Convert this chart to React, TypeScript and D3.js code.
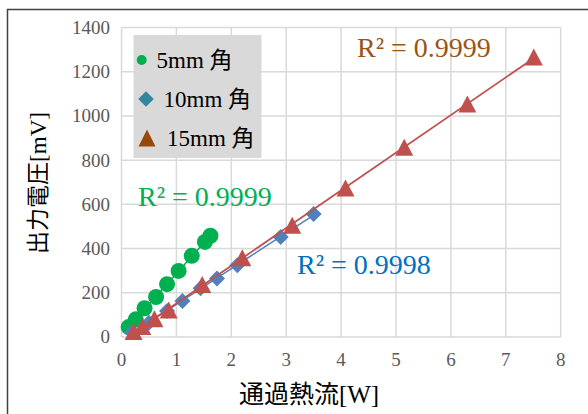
import React from "react";
import * as d3 from "d3";

// Heat flow [W] vs output voltage [mV] for three sensor sizes
const seriesNames = ["5mm 角", "10mm 角", "15mm 角"];

const flow5 = [0.13, 0.26, 0.42, 0.63, 0.83, 1.04, 1.28, 1.52, 1.62];
const volt5 = [45, 80, 130, 181, 239, 299, 367, 430, 458];

const flow10 = [0.19, 0.5, 0.83, 1.11, 1.44, 1.74, 2.11, 2.9, 3.5];
const volt10 = [22, 65, 118, 163, 221, 265, 325, 452, 556];

const flow15 = [0.22, 0.38, 0.6, 0.86, 1.47, 2.2, 3.11, 4.08, 5.15, 6.3, 7.51];
const volt15 = [25, 48, 82, 122, 238, 358, 505, 674, 858, 1054, 1266];

const r2Labels = ["R² = 0.9999", "R² = 0.9998", "R² = 0.9999"];

const xTicks = [0, 1, 2, 3, 4, 5, 6, 7, 8];
const yTicks = [0, 200, 400, 600, 800, 1000, 1200, 1400];

const W = 588;
const H = 414;
const SERIF = "'Liberation Serif', 'Times New Roman', 'Noto Sans CJK JP', serif";

function fit(xs: number[], ys: number[]) {
  const mx = d3.mean(xs)!;
  const my = d3.mean(ys)!;
  const sxy = d3.sum(xs, (x, i) => (x - mx) * (ys[i] - my));
  const sxx = d3.sum(xs, (x) => (x - mx) * (x - mx));
  const slope = sxy / sxx;
  return { slope, intercept: my - slope * mx };
}

export default function App() {
  const x = d3.scaleLinear().domain([0, 8]).range([121.5, 560.7]);
  const y = d3.scaleLinear().domain([0, 1400]).range([337, 27.5]);

  const s5 = flow5.map((v, i) => [v, volt5[i]] as [number, number]);
  const s10 = flow10.map((v, i) => [v, volt10[i]] as [number, number]);
  const s15 = flow15.map((v, i) => [v, volt15[i]] as [number, number]);

  const trend = (xs: number[], ys: number[]) => {
    const { slope, intercept } = fit(xs, ys);
    const x0 = d3.min(xs)!;
    const x1 = d3.max(xs)!;
    return { x1: x(x0), y1: y(slope * x0 + intercept), x2: x(x1), y2: y(slope * x1 + intercept) };
  };
  const t5 = trend(flow5, volt5);
  const t10 = trend(flow10, volt10);
  const t15 = trend(flow15, volt15);

  const diamond = d3.symbol().type(d3.symbolSquare).size(128)();
  const legendDiamond = d3.symbol().type(d3.symbolSquare).size(120)();
  const tri = (w: number, h: number) => `M0,${-h / 2}L${w / 2},${h / 2}L${-w / 2},${h / 2}Z`;

  const green = "#00b050";
  const blue = "#4f81bd";
  const red = "#c0504d";

  return (
    <svg
      width={W}
      height={H}
      style={{ position: "absolute", left: 0, top: 0, background: "#fff" }}
      fontFamily={SERIF}
    >
      <rect x={0} y={0} width={W} height={H} fill="#fff" />
      {/* chart frame */}
      <path d={`M7.5,${H + 5}V9.5H${W + 5}`} fill="none" stroke="#404040" strokeWidth={1.5} />

      {/* gridlines */}
      {yTicks.map((t) => (
        <line key={"gy" + t} x1={x(0)} x2={x(8)} y1={y(t)} y2={y(t)} stroke="#d9d9d9" strokeWidth={1.5} />
      ))}
      {xTicks.map((t) => (
        <line key={"gx" + t} x1={x(t)} x2={x(t)} y1={y(0)} y2={y(1400)} stroke="#d9d9d9" strokeWidth={1.5} />
      ))}

      {/* tick labels */}
      {yTicks.map((t) => (
        <text key={"ty" + t} x={110} y={y(t) + 2} textAnchor="end" dominantBaseline="middle" fontSize={19} fill="#595959">
          {t}
        </text>
      ))}
      {xTicks.map((t) => (
        <text key={"tx" + t} x={x(t)} y={366} textAnchor="middle" fontSize={19} fill="#595959">
          {t}
        </text>
      ))}

      {/* axis titles */}
      <text x={309} y={403} textAnchor="middle" fontSize={25} fill="#000">
        通過熱流[W]
      </text>
      <text transform={`translate(46,183) rotate(-90)`} textAnchor="middle" fontSize={23} fill="#000">
        出力電圧[mV]
      </text>

      {/* 5mm series */}
      {s5.map((d, i) => (
        <circle key={"c" + i} cx={x(d[0])} cy={y(d[1])} r={8} fill={green} />
      ))}
      <line {...t5} stroke={green} strokeWidth={1.5} />

      {/* 10mm series */}
      {s10.map((d, i) => (
        <path key={"d" + i} d={diamond} transform={`translate(${x(d[0])},${y(d[1])}) rotate(45)`} fill={blue} />
      ))}
      <line {...t10} stroke={blue} strokeWidth={1.5} />

      {/* 15mm series */}
      {s15.map((d, i) => (
        <path key={"t" + i} d={tri(18, 17)} transform={`translate(${x(d[0])},${y(d[1])})`} fill={red} />
      ))}
      <line {...t15} stroke={red} strokeWidth={1.75} />

      {/* R² annotations */}
      <text x={138} y={206} fontSize={28} fill="#00b050">
        {r2Labels[0]}
      </text>
      <text x={297} y={274} fontSize={28} fill="#0070c0">
        {r2Labels[1]}
      </text>
      <text x={357} y={57} fontSize={28} fill="#9c5415">
        {r2Labels[2]}
      </text>

      {/* legend */}
      <rect x={133.5} y={35} width={128} height={123} fill="#d9d9d9" />
      <circle cx={141.7} cy={60} r={5} fill="#00b050" />
      <path d={legendDiamond} transform="translate(146,99) rotate(45)" fill="#31859c" />
      <path d={tri(17, 17)} transform="translate(147,138)" fill="#984807" />
      {seriesNames.map((n, i) => (
        <text key={n} x={[156.5, 163.5, 167][i]} y={[60, 99, 138][i] + 7.5} fontSize={23} fill="#000">
          {n}
        </text>
      ))}
    </svg>
  );
}
